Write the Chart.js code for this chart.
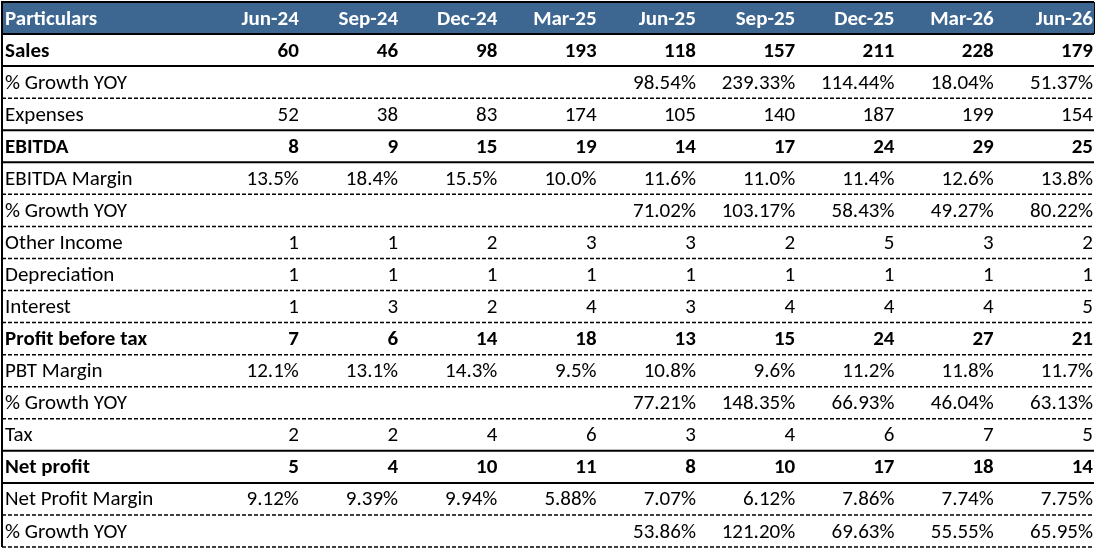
<!DOCTYPE html>
<html>
<head>
<meta charset="utf-8">
<script src="https://cdn.jsdelivr.net/npm/chart.js@4/dist/chart.umd.min.js"></script>
<style>
  html, body { margin: 0; padding: 0; background: #ffffff; }
  #wrap { width: 1097px; height: 551px; position: relative; }
</style>
</head>
<body>
<div id="wrap"><canvas id="c" width="1097" height="551"></canvas></div>
<script>
// ---- data ----
const periods = ["Jun-24","Sep-24","Dec-24","Mar-25","Jun-25","Sep-25","Dec-25","Mar-26","Jun-26"];
const headerLabel = "Particulars";
const rowLabels = ["Sales","% Growth YOY","Expenses","EBITDA","EBITDA Margin","% Growth YOY",
  "Other Income","Depreciation","Interest","Profit before tax","PBT Margin","% Growth YOY",
  "Tax","Net profit","Net Profit Margin","% Growth YOY"];
const sales        = [60,46,98,193,118,157,211,228,179];
const salesGrowth  = [null,null,null,null,98.54,239.33,114.44,18.04,51.37];
const expenses     = [52,38,83,174,105,140,187,199,154];
const ebitda       = [8,9,15,19,14,17,24,29,25];
const ebitdaMargin = [13.5,18.4,15.5,10.0,11.6,11.0,11.4,12.6,13.8];
const ebitdaGrowth = [null,null,null,null,71.02,103.17,58.43,49.27,80.22];
const otherIncome  = [1,1,2,3,3,2,5,3,2];
const depreciation = [1,1,1,1,1,1,1,1,1];
const interest     = [1,3,2,4,3,4,4,4,5];
const pbt          = [7,6,14,18,13,15,24,27,21];
const pbtMargin    = [12.1,13.1,14.3,9.5,10.8,9.6,11.2,11.8,11.7];
const pbtGrowth    = [null,null,null,null,77.21,148.35,66.93,46.04,63.13];
const tax          = [2,2,4,6,3,4,6,7,5];
const netProfit    = [5,4,10,11,8,10,17,18,14];
const npMargin     = [9.12,9.39,9.94,5.88,7.07,6.12,7.86,7.74,7.75];
const npGrowth     = [null,null,null,null,53.86,121.20,69.63,55.55,65.95];

const rowValues = [sales,salesGrowth,expenses,ebitda,ebitdaMargin,ebitdaGrowth,otherIncome,
  depreciation,interest,pbt,pbtMargin,pbtGrowth,tax,netProfit,npMargin,npGrowth];
// formats: decimals, percent suffix
const rowDecimals = [0,2,0,0,1,2,0,0,0,0,1,2,0,0,2,2];
const rowPercent  = [false,true,false,false,true,true,false,false,false,false,true,true,false,false,true,true];
const rowBold     = [true,false,false,true,false,false,false,false,false,true,false,false,false,true,false,false];
// line below each row: header first, then each body row (true = solid)
const lineSolid   = [true, true,false,true,true,false,false,false,false,false,false,false,false,true,true,false,false];

// ---- styling ----
const HEADER_BG = "#3D6791";
const FAMILY = "Carlito, Calibri, Lato, 'Open Sans', sans-serif";
const NROWS = rowLabels.length + 1;
const FIRST_COL_UNITS = 2.0;
const PAD_R = 1;

function fitFontSize() {
  const cv = document.createElement("canvas").getContext("2d");
  let best = 19;
  for (let s = 14; s <= 24; s += 0.25) {
    cv.font = s + "px " + FAMILY;
    if (cv.measureText("% Growth YOY").width <= 123) best = s;
  }
  return best;
}
const FS = fitFontSize();

function fmt(v, d, p) {
  if (v === null || v === undefined) return "";
  return v.toFixed(d) + (p ? "%" : "");
}

// cell points (invisible) positioned through the scales
const points = [];
rowValues.forEach((arr, r) => arr.forEach((v, c) => { if (v !== null) points.push({x: c + 0.5, y: r + 1.5}); }));

const tablePlugin = {
  id: "tablePlugin",
  afterDatasetsDraw(chart) {
    const ctx = chart.ctx;
    const xs = chart.scales.x, ys = chart.scales.y;
    const left = xs.getPixelForValue(-FIRST_COL_UNITS);
    const right = xs.getPixelForValue(periods.length);
    const top = ys.getPixelForValue(0);
    const yb = r => ys.getPixelForValue(r);
    ctx.save();
    // header background
    ctx.fillStyle = HEADER_BG;
    ctx.fillRect(left, top, right - left, yb(1) - top);
    // header text
    ctx.fillStyle = "#ffffff";
    ctx.font = "bold " + FS + "px " + FAMILY;
    ctx.textBaseline = "alphabetic";
    ctx.textAlign = "left";
    ctx.fillText(headerLabel, left + 3, yb(1) - 9);
    ctx.textAlign = "right";
    periods.forEach((p, c) => ctx.fillText(p, xs.getPixelForValue(c + 1) - PAD_R, yb(1) - 9));
    // body
    ctx.fillStyle = "#000000";
    rowLabels.forEach((lab, i) => {
      const r = i + 1;
      const base = yb(r + 1) - 9.5;
      ctx.font = (rowBold[i] ? "bold " : "") + FS + "px " + FAMILY;
      ctx.textAlign = "left";
      ctx.fillText(lab, left + 3, base);
      ctx.textAlign = "right";
      rowValues[i].forEach((v, c) => {
        const s = fmt(v, rowDecimals[i], rowPercent[i]);
        if (s) ctx.fillText(s, xs.getPixelForValue(c + 1) - PAD_R, base);
      });
    });
    // horizontal lines
    ctx.strokeStyle = "#000000";
    lineSolid.forEach((solid, i) => {
      const y = yb(i + 1);
      ctx.beginPath();
      if (solid) { ctx.setLineDash([]); ctx.lineWidth = 2; }
      else { ctx.setLineDash([4, 2]); ctx.lineWidth = 1.5; }
      ctx.moveTo(left, y); ctx.lineTo(right, y);
      ctx.stroke();
    });
    ctx.setLineDash([]);
    // top border
    ctx.lineWidth = 2;
    ctx.beginPath(); ctx.moveTo(left - 1, top); ctx.lineTo(right, top); ctx.stroke();
    // left border
    ctx.beginPath(); ctx.moveTo(left, top - 1); ctx.lineTo(left, yb(NROWS)); ctx.stroke();
    // header right edge
    ctx.lineWidth = 1;
    ctx.beginPath(); ctx.moveTo(right + 0.5, top); ctx.lineTo(right + 0.5, yb(1)); ctx.stroke();
    ctx.restore();
  }
};

new Chart(document.getElementById("c"), {
  type: "scatter",
  data: { datasets: [{ data: points, pointRadius: 0, pointHoverRadius: 0, showLine: false }] },
  options: {
    responsive: false,
    animation: false,
    events: [],
    layout: { padding: { left: 2, top: 2, right: 3, bottom: 4 } },
    plugins: { legend: { display: false }, tooltip: { enabled: false } },
    scales: {
      x: { type: "linear", display: false, min: -FIRST_COL_UNITS, max: periods.length },
      y: { type: "linear", display: false, min: 0, max: NROWS, reverse: true }
    }
  },
  plugins: [tablePlugin]
});
</script>
</body>
</html>
